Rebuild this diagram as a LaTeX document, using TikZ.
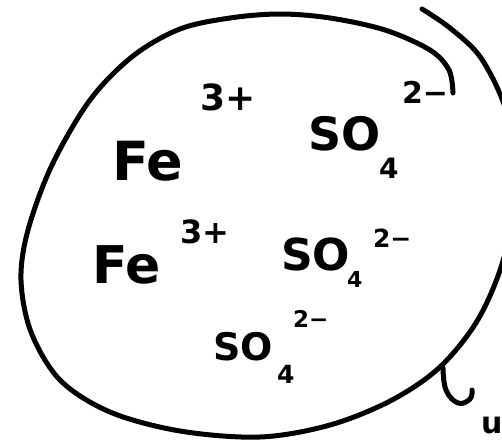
\documentclass[tikz,border=0pt]{standalone}
\usepackage{fontspec}
\setmainfont{DejaVu Sans}
\begin{document}
\begin{tikzpicture}[x=1pt,y=-1pt,
  ink/.style={line width=5pt,line cap=round,line join=round},
  lbl/.style={anchor=base west,inner sep=0pt,outer sep=0pt},
  fs/.style={font=\fontsize{#1}{#1}\selectfont\bfseries}]
\useasboundingbox (0,0) rectangle (502,442);
\fill[white] (0,0) rectangle (502,442);
\clip (0,0) rectangle (502,442);
% outer loop
\draw[ink] plot[smooth,tension=0.55] coordinates {
  (453,93) (449,70) (430,50) (385,30) (330,18) (280,14) (230,18) (180,29)
  (133,56) (90,100) (52,165) (28,230) (21,280) (31,332) (60,380) (110,412)
  (180,431) (260,437) (330,425) (392,400) (441,366) (480,316) (506,250)
  (516,170) (506,110) (481,58) (450,28) (422,9)};
% squiggle
\draw[ink] plot[smooth,tension=0.7] coordinates {
  (443,368) (446,390) (458,403) (470,399) (472,390)};
\node[lbl,fs=30] (u) at (481,433) {u};
% ions
\node[lbl,fs=54] (fe1) at (112,180) {Fe};
\node[lbl,fs=36] (fe1c) at (200,110) {3+};
\node[lbl,fs=46] (s1) at (308,150) {SO};
\node[lbl,fs=28] (s1i) at (379,178) {4};
\node[lbl,fs=30] (s1c) at (402,103) {2−};
\node[lbl,fs=52] (fe2) at (92,283) {Fe};
\node[lbl,fs=32] (fe2c) at (180,243) {3+};
\node[lbl,fs=44] (s2) at (281,270) {SO};
\node[lbl,fs=22] (s2i) at (347,287) {4};
\node[lbl,fs=25] (s2c) at (373,247) {2−};
\node[lbl,fs=38] (s3) at (213,360) {SO};
\node[lbl,fs=25] (s3i) at (277,383) {4};
\node[lbl,fs=23] (s3c) at (293,327) {2−};
\end{tikzpicture}
\end{document}
